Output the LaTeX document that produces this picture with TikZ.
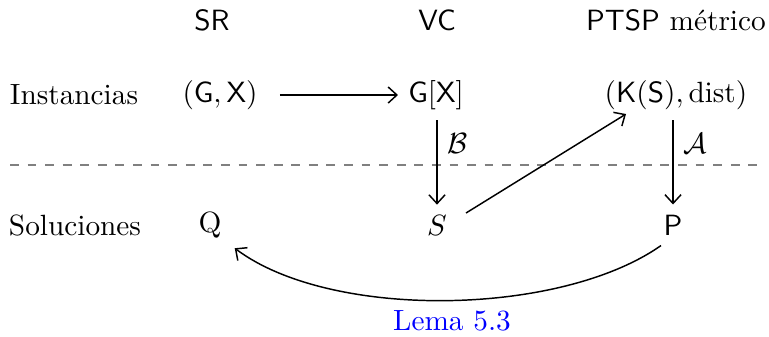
\documentclass[tikz,border=0pt]{standalone}
\usepackage{amsmath}
\usetikzlibrary{calc,arrows.meta}
\begin{document}
\begin{tikzpicture}[x=0.3413pt,y=-0.3413pt,
  lbl/.style={inner sep=3.33pt},
  arr/.style={-{Straight Barb[length=3pt,width=5.5pt]},line width=0.5pt},
  sep/.style={dashed,gray,line width=0.5pt}]
\useasboundingbox (0,0) rectangle (769,336);
% headers
\node[lbl] (sr) at (212,20) {\textsf{SR}};
\node[lbl] (vc) at (437,20) {\textsf{VC}};
\node[lbl] (ptsp) at (676,20) {\textsf{PTSP} métrico};
% row labels
\node[lbl] (inst) at (74,95) {Instancias};
\node[lbl] (sol) at (75,225) {Soluciones};
% instances
\node[lbl] (gx) at (220,95) {$(\mathsf{G},\mathsf{X})$};
\node[lbl] (gX) at (436,95) {$\mathsf{G}[\mathsf{X}]$};
\node[lbl] (ks) at (676,95) {$(\mathsf{K}(\mathsf{S}),\mathrm{dist})$};
% solutions
\node[lbl] (Q) at (210,225) {$\mathrm{Q}$};
\node[lbl] (S) at (437,225) {$S$};
\node[lbl] (P) at (673,225) {$\mathsf{P}$};
\node[lbl,text=blue] (lema) at (452,321) {Lema 5.3};
% separator
\coordinate (l) at (10,165);
\coordinate (r) at (757,165);
\draw[sep] (l) -- (r);
% arrows
\draw[arr,shorten <=12*0.3413pt] (gx) -- (gX);
\draw[arr] (gX.south -| S) -- node[pos=0.28,right,lbl] {$\mathcal{B}$} (S.north);
\draw[arr] (ks.south -| P) -- node[pos=0.28,right,lbl] {$\mathcal{A}$} (P.north);
\draw[arr] ($(S)+(29,-12)$) -- ($(ks)+(-50,19)$);
\draw[arr] ($(P.south)+(-12,0)$) .. controls +(-101,71) and +(96,72) .. ($(Q.south east)+(3,0)$);
\end{tikzpicture}
\end{document}
